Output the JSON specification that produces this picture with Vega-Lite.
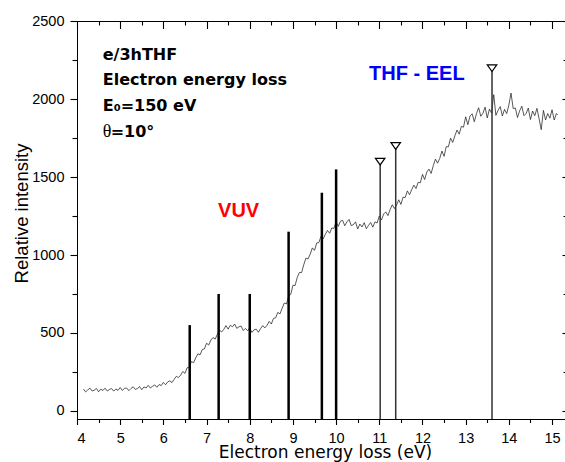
{
  "$schema": "https://vega.github.io/schema/vega-lite/v6.json",
  "width": 488,
  "height": 398,
  "autosize": {"type": "none"},
  "padding": {"left": 77, "top": 21, "right": 0, "bottom": 43},
  "background": "white",
  "config": {
    "view": {"stroke": "black", "strokeWidth": 1},
    "axis": {
      "grid": false,
      "ticks": true,
      "labelFont": "Liberation Sans",
      "titleFont": "Liberation Sans",
      "labelFontSize": 14.5,
      "titleFontSize": 19,
      "titleFontWeight": "normal",
      "labelColor": "black",
      "titleColor": "black",
      "tickColor": "#000000",
      "tickOpacity": 1,
      "domainColor": "black",
      "tickWidth": 1.1,
      "zindex": 1
    }
  },
  "datasets": {
    "spectrum": [
      {"x":4.15,"y":139},{"x":4.20,"y":121},{"x":4.25,"y":134},{"x":4.30,"y":145},{"x":4.35,"y":127},{"x":4.40,"y":132},{"x":4.45,"y":143},{"x":4.50,"y":122},{"x":4.55,"y":139},{"x":4.60,"y":130},
      {"x":4.65,"y":145},{"x":4.70,"y":127},{"x":4.75,"y":136},{"x":4.80,"y":143},{"x":4.85,"y":126},{"x":4.90,"y":140},{"x":4.95,"y":131},{"x":5.00,"y":149},{"x":5.05,"y":130},{"x":5.10,"y":144},
      {"x":5.15,"y":146},{"x":5.20,"y":129},{"x":5.25,"y":143},{"x":5.30,"y":154},{"x":5.35,"y":137},{"x":5.40,"y":143},{"x":5.45,"y":155},{"x":5.50,"y":135},{"x":5.55,"y":153},{"x":5.60,"y":146},
      {"x":5.65,"y":163},{"x":5.70,"y":146},{"x":5.75,"y":157},{"x":5.80,"y":166},{"x":5.85,"y":151},{"x":5.90,"y":168},{"x":5.95,"y":162},{"x":6.00,"y":182},{"x":6.05,"y":167},{"x":6.10,"y":185},
      {"x":6.15,"y":192},{"x":6.20,"y":181},{"x":6.25,"y":202},{"x":6.30,"y":221},{"x":6.35,"y":213},{"x":6.40,"y":229},{"x":6.45,"y":252},{"x":6.50,"y":240},{"x":6.55,"y":276},{"x":6.60,"y":280},
      {"x":6.65,"y":316},{"x":6.70,"y":309},{"x":6.75,"y":340},{"x":6.80,"y":366},{"x":6.85,"y":359},{"x":6.90,"y":393},{"x":6.95,"y":397},{"x":7.00,"y":434},{"x":7.05,"y":422},{"x":7.10,"y":454},
      {"x":7.15,"y":470},{"x":7.20,"y":460},{"x":7.25,"y":491},{"x":7.30,"y":518},{"x":7.35,"y":506},{"x":7.40,"y":523},{"x":7.45,"y":547},{"x":7.50,"y":524},{"x":7.55,"y":549},{"x":7.60,"y":539},
      {"x":7.65,"y":557},{"x":7.70,"y":529},{"x":7.75,"y":539},{"x":7.80,"y":544},{"x":7.85,"y":515},{"x":7.90,"y":529},{"x":7.95,"y":514},{"x":8.00,"y":532},{"x":8.05,"y":503},{"x":8.10,"y":520},
      {"x":8.15,"y":524},{"x":8.20,"y":504},{"x":8.25,"y":527},{"x":8.30,"y":547},{"x":8.35,"y":532},{"x":8.40,"y":548},{"x":8.45,"y":574},{"x":8.50,"y":557},{"x":8.55,"y":593},{"x":8.60,"y":597},
      {"x":8.65,"y":632},{"x":8.70,"y":622},{"x":8.75,"y":658},{"x":8.80,"y":692},{"x":8.85,"y":686},{"x":8.90,"y":734},{"x":8.95,"y":748},{"x":9.00,"y":806},{"x":9.05,"y":804},{"x":9.10,"y":856},
      {"x":9.15,"y":888},{"x":9.20,"y":887},{"x":9.25,"y":937},{"x":9.30,"y":980},{"x":9.35,"y":975},{"x":9.40,"y":1006},{"x":9.45,"y":1046},{"x":9.50,"y":1030},{"x":9.55,"y":1077},{"x":9.60,"y":1080},
      {"x":9.65,"y":1120},{"x":9.70,"y":1103},{"x":9.75,"y":1133},{"x":9.80,"y":1158},{"x":9.85,"y":1140},{"x":9.90,"y":1174},{"x":9.95,"y":1171},{"x":10.00,"y":1213},{"x":10.05,"y":1184},{"x":10.10,"y":1217},
      {"x":10.15,"y":1223},{"x":10.20,"y":1188},{"x":10.25,"y":1213},{"x":10.30,"y":1229},{"x":10.35,"y":1189},{"x":10.40,"y":1195},{"x":10.45,"y":1213},{"x":10.50,"y":1167},{"x":10.55,"y":1199},{"x":10.60,"y":1180},
      {"x":10.65,"y":1208},{"x":10.70,"y":1169},{"x":10.75,"y":1190},{"x":10.80,"y":1209},{"x":10.85,"y":1179},{"x":10.90,"y":1213},{"x":10.95,"y":1206},{"x":11.00,"y":1251},{"x":11.05,"y":1225},{"x":11.10,"y":1263},
      {"x":11.15,"y":1277},{"x":11.20,"y":1253},{"x":11.25,"y":1292},{"x":11.30,"y":1323},{"x":11.35,"y":1299},{"x":11.40,"y":1321},{"x":11.45,"y":1355},{"x":11.50,"y":1325},{"x":11.55,"y":1372},{"x":11.60,"y":1369},
      {"x":11.65,"y":1412},{"x":11.70,"y":1387},{"x":11.75,"y":1420},{"x":11.80,"y":1449},{"x":11.85,"y":1427},{"x":11.90,"y":1467},{"x":11.95,"y":1464},{"x":12.00,"y":1518},{"x":12.05,"y":1485},{"x":12.10,"y":1533},
      {"x":12.15,"y":1552},{"x":12.20,"y":1524},{"x":12.25,"y":1574},{"x":12.30,"y":1616},{"x":12.35,"y":1590},{"x":12.40,"y":1621},{"x":12.45,"y":1668},{"x":12.50,"y":1634},{"x":12.55,"y":1696},{"x":12.60,"y":1695},
      {"x":12.65,"y":1751},{"x":12.70,"y":1723},{"x":12.75,"y":1766},{"x":12.80,"y":1803},{"x":12.85,"y":1776},{"x":12.90,"y":1826},{"x":12.95,"y":1821},{"x":13.00,"y":1888},{"x":13.05,"y":1837},{"x":13.10,"y":1893},
      {"x":13.15,"y":1907},{"x":13.20,"y":1856},{"x":13.25,"y":1908},{"x":13.30,"y":1946},{"x":13.35,"y":1891},{"x":13.40,"y":1911},{"x":13.45,"y":1950},{"x":13.50,"y":1880},{"x":13.55,"y":1938},{"x":13.60,"y":1911},
      {"x":13.65,"y":2030},{"x":13.70,"y":1897},{"x":13.75,"y":1929},{"x":13.80,"y":1953},{"x":13.85,"y":1893},{"x":13.90,"y":1936},{"x":13.95,"y":1908},{"x":14.00,"y":1963},{"x":14.05,"y":2040},{"x":14.10,"y":1941},
      {"x":14.15,"y":1944},{"x":14.20,"y":1883},{"x":14.25,"y":1926},{"x":14.30,"y":1956},{"x":14.35,"y":1895},{"x":14.40,"y":1909},{"x":14.45,"y":1944},{"x":14.50,"y":1870},{"x":14.55,"y":1925},{"x":14.60,"y":1895},
      {"x":14.65,"y":1942},{"x":14.70,"y":1876},{"x":14.75,"y":1805},{"x":14.80,"y":1929},{"x":14.85,"y":1867},{"x":14.90,"y":1909},{"x":14.95,"y":1879},{"x":15.00,"y":1933},{"x":15.05,"y":1867},{"x":15.10,"y":1909},
      {"x":15.13,"y":1900}
    ],
    "vuv": [
      {"x":6.61,"y":550},{"x":7.28,"y":750},{"x":8.0,"y":750},{"x":8.9,"y":1150},{"x":9.67,"y":1400},{"x":10.0,"y":1550}
    ],
    "eel": [
      {"x":11.02,"y":1600},{"x":11.38,"y":1700},{"x":13.61,"y":2200}
    ],
    "notes": [
      {"x":4.596,"y":2253,"label":"e/3hTHF"},
      {"x":4.596,"y":2092,"label":"Electron energy loss"},
      {"x":4.596,"y":1927,"label":"E₀=150 eV"},
      {"x":4.78,"y":1760,"label":"=10°"}
    ],
    "theta": [{"x":4.596,"y":1760,"label":"θ"}],
    "vuvlabel": [{"x":7.742,"y":1244,"label":"VUV"}],
    "eellabel": [{"x":11.87,"y":2124,"label":"THF - EEL"}]
  },
  "resolve": {"axis": {"x": "independent", "y": "independent"}},
  "layer": [
    {
      "data": {"name": "spectrum"},
      "mark": {"type": "line", "color": "#222222", "strokeWidth": 0.75},
      "encoding": {
        "x": {"field": "x", "type": "quantitative",
              "scale": {"domain": [4, 15.3], "nice": false, "zero": false},
              "axis": {"orient": "bottom", "values": [4,5,6,7,8,9,10,11,12,13,14,15], "tickSize": 5.5,
                       "labelBaseline": "alphabetic", "labelPadding": 18.2,
                       "title": "Electron energy loss (eV)", "titleFont": "DejaVu Sans", "titleFontSize": 17,
                       "titleBaseline": "alphabetic", "titleY": 38.3, "titleX": 248}},
        "y": {"field": "y", "type": "quantitative",
              "scale": {"domain": [-53, 2503], "nice": false, "zero": false},
              "axis": {"orient": "left", "values": [0,500,1000,1500,2000,2500], "format": "d", "tickSize": 7, "labelPadding": 6,
                       "title": "Relative intensity", "titleFontSize": 18.5, "titleBaseline": "alphabetic", "titleX": -50, "titleY": 192}}
      }
    },
    {
      "data": {"name": "vuv"},
      "mark": {"type": "rule", "color": "black", "strokeWidth": 2.5},
      "encoding": {
        "x": {"field": "x", "type": "quantitative",
              "axis": {"orient": "bottom", "values": [4.5,5.5,6.5,7.5,8.5,9.5,10.5,11.5,12.5,13.5,14.5], "tickSize": 3.5, "labels": false, "domain": false, "title": null}},
        "y": {"field": "y", "type": "quantitative",
              "axis": {"orient": "left", "values": [250,750,1250,1750,2250], "tickSize": 5, "labels": false, "domain": false, "title": null}},
        "y2": {"datum": -53}
      }
    },
    {
      "data": {"name": "eel"},
      "mark": {"type": "rule", "color": "#333333", "strokeWidth": 1.5},
      "encoding": {
        "x": {"field": "x", "type": "quantitative",
              "axis": {"orient": "top", "values": [4,5,6,7,8,9,10,11,12,13,14,15], "tickSize": -7.5, "labels": false, "title": null}},
        "y": {"field": "y", "type": "quantitative",
              "axis": {"orient": "right", "values": [0,500,1000,1500,2000,2500], "tickSize": -3, "labels": false, "title": null}},
        "y2": {"datum": -53}
      }
    },
    {
      "data": {"name": "eel"},
      "mark": {"type": "point", "shape": "M-1,-0.7L1,-0.7L0,0.7Z", "size": 90, "filled": true, "fill": "white", "stroke": "black", "strokeWidth": 1.2, "opacity": 1},
      "encoding": {
        "x": {"field": "x", "type": "quantitative",
              "axis": {"orient": "top", "values": [4.5,5.5,6.5,7.5,8.5,9.5,10.5,11.5,12.5,13.5,14.5], "tickSize": -4, "labels": false, "domain": false, "title": null}},
        "y": {"field": "y", "type": "quantitative",
              "axis": {"orient": "right", "values": [250,750,1250,1750,2250], "tickSize": -2, "labels": false, "domain": false, "title": null}}
      }
    },
    {
      "data": {"name": "notes"},
      "mark": {"type": "text", "font": "DejaVu Sans", "fontWeight": "bold", "fontSize": 16, "align": "left", "baseline": "alphabetic", "color": "black"},
      "encoding": {
        "x": {"field": "x", "type": "quantitative", "axis": null},
        "y": {"field": "y", "type": "quantitative", "axis": null},
        "text": {"field": "label"}
      }
    },
    {
      "data": {"name": "theta"},
      "mark": {"type": "text", "font": "Liberation Serif", "fontSize": 18, "align": "left", "baseline": "alphabetic", "color": "black"},
      "encoding": {
        "x": {"field": "x", "type": "quantitative", "axis": null},
        "y": {"field": "y", "type": "quantitative", "axis": null},
        "text": {"field": "label"}
      }
    },
    {
      "data": {"name": "vuvlabel"},
      "mark": {"type": "text", "font": "Liberation Sans", "fontWeight": "bold", "fontSize": 20, "align": "center", "baseline": "alphabetic", "color": "#ff0000"},
      "encoding": {
        "x": {"field": "x", "type": "quantitative", "axis": null},
        "y": {"field": "y", "type": "quantitative", "axis": null},
        "text": {"field": "label"}
      }
    },
    {
      "data": {"name": "eellabel"},
      "mark": {"type": "text", "font": "Liberation Sans", "fontWeight": "bold", "fontSize": 20, "align": "center", "baseline": "alphabetic", "color": "#0000ff"},
      "encoding": {
        "x": {"field": "x", "type": "quantitative", "axis": null},
        "y": {"field": "y", "type": "quantitative", "axis": null},
        "text": {"field": "label"}
      }
    }
  ]
}
